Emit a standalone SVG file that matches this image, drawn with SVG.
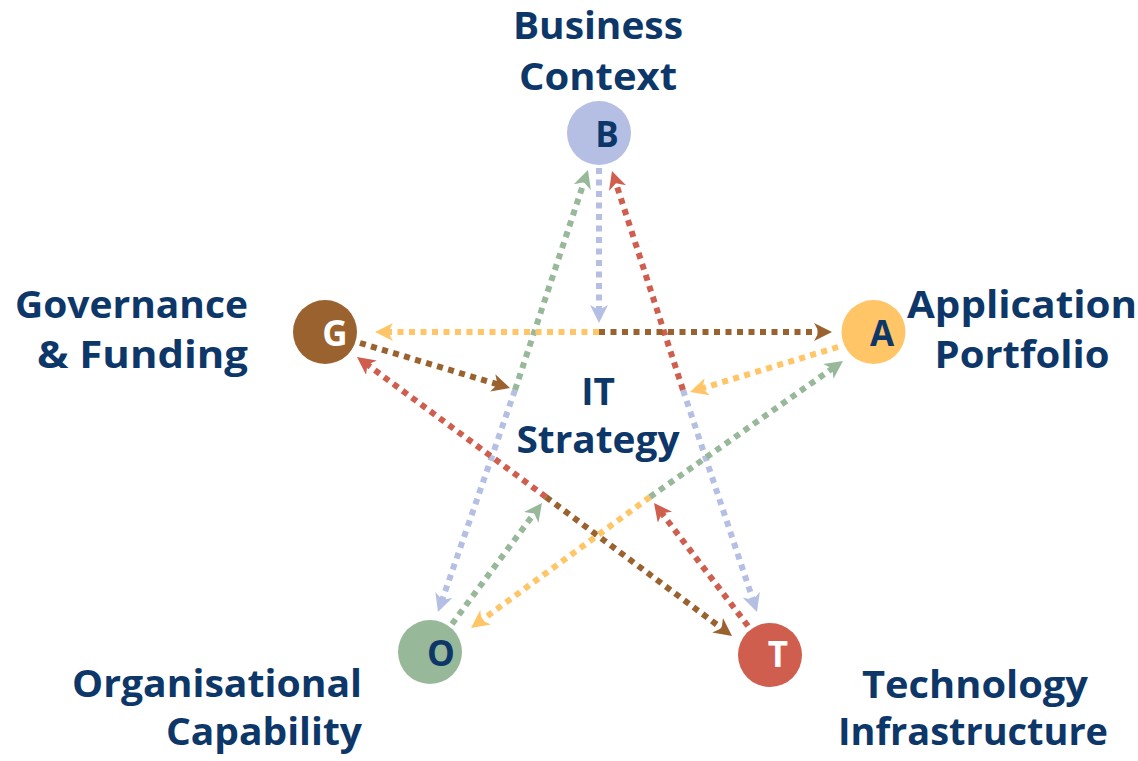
<svg xmlns="http://www.w3.org/2000/svg" width="1138" height="761" viewBox="0 0 1138 761">
<style>
.lbl{font-family:"Open Sans","Noto Sans","Liberation Sans",sans-serif;font-weight:700;font-size:37px;fill:#0D3768}
.ltr{font-family:"Open Sans","Noto Sans","Liberation Sans",sans-serif;font-weight:700;font-size:35px;text-anchor:middle}
.c{stroke-width:6;stroke-dasharray:6 5.5;fill:none}
.b{stroke:#B4BFE3}.g{stroke:#98B89A}.y{stroke:#FFC566}.br{stroke:#9A622F}.r{stroke:#D05E4F}
</style>
<defs>
<marker id="mb" viewBox="0 0 18 18" refX="6" refY="9" markerWidth="18" markerHeight="18" markerUnits="userSpaceOnUse" orient="auto"><path d="M0,0 L18,9 L0,18 L5,9 Z" fill="#B4BFE3"/></marker>
<marker id="mg" viewBox="0 0 18 18" refX="6" refY="9" markerWidth="18" markerHeight="18" markerUnits="userSpaceOnUse" orient="auto"><path d="M0,0 L18,9 L0,18 L5,9 Z" fill="#98B89A"/></marker>
<marker id="my" viewBox="0 0 18 18" refX="6" refY="9" markerWidth="18" markerHeight="18" markerUnits="userSpaceOnUse" orient="auto"><path d="M0,0 L18,9 L0,18 L5,9 Z" fill="#FFC566"/></marker>
<marker id="mbr" viewBox="0 0 18 18" refX="6" refY="9" markerWidth="18" markerHeight="18" markerUnits="userSpaceOnUse" orient="auto"><path d="M0,0 L18,9 L0,18 L5,9 Z" fill="#9A622F"/></marker>
<marker id="mr" viewBox="0 0 18 18" refX="6" refY="9" markerWidth="18" markerHeight="18" markerUnits="userSpaceOnUse" orient="auto"><path d="M0,0 L18,9 L0,18 L5,9 Z" fill="#D05E4F"/></marker>
</defs>
<rect width="1138" height="761" fill="#FFFFFF"/>
<g id="connectors">
<line class="c b" x1="599" y1="168" x2="599" y2="311" marker-end="url(#mb)"/>
<line class="c b" x1="515" y1="390" x2="441.9" y2="600.7" marker-end="url(#mb)"/>
<line class="c b" x1="683" y1="390" x2="753.2" y2="600.6" marker-end="url(#mb)"/>
<line class="c g" x1="515" y1="390" x2="584.2" y2="181.4" marker-end="url(#mg)"/>
<line class="c r" x1="683" y1="390" x2="615.7" y2="182.4" marker-end="url(#mr)"/>
<line class="c y" x1="599" y1="332" x2="387" y2="332" marker-end="url(#my)"/>
<line class="c br" x1="599" y1="332" x2="820" y2="332" marker-end="url(#mbr)"/>
<line class="c br" x1="360" y1="343" x2="498.5" y2="384.6" marker-end="url(#mbr)"/>
<line class="c r" x1="546" y1="497" x2="366.6" y2="364.1" marker-end="url(#mr)"/>
<line class="c br" x1="546" y1="497" x2="722.4" y2="628.8" marker-end="url(#mbr)"/>
<line class="c r" x1="748" y1="626" x2="661.3" y2="512.5" marker-end="url(#mr)"/>
<line class="c g" x1="452" y1="624" x2="534.8" y2="512.6" marker-end="url(#mg)"/>
<line class="c y" x1="650" y1="497" x2="480.7" y2="620.9" marker-end="url(#my)"/>
<line class="c g" x1="650" y1="497" x2="833.2" y2="367.9" marker-end="url(#mg)"/>
<line class="c y" x1="838" y1="347" x2="701.5" y2="388.5" marker-end="url(#my)"/>
</g>
<g id="node-B">
<circle cx="599" cy="133" r="32" fill="#B4BFE3"/>
<text class="ltr" x="607" y="147" fill="#0D3768">B</text>
<text class="lbl" x="598" y="39" text-anchor="middle" textLength="170" lengthAdjust="spacingAndGlyphs">Business</text>
<text class="lbl" x="598" y="90" text-anchor="middle" textLength="158" lengthAdjust="spacingAndGlyphs">Context</text>
</g>
<g id="node-G">
<circle cx="325" cy="332" r="32" fill="#9A622F"/>
<text class="ltr" x="335" y="346" fill="#FFFFFF">G</text>
<text class="lbl" x="248" y="318" text-anchor="end" textLength="233" lengthAdjust="spacingAndGlyphs">Governance</text>
<text class="lbl" x="248" y="368" text-anchor="end" textLength="211" lengthAdjust="spacingAndGlyphs">&amp; Funding</text>
</g>
<g id="node-A">
<circle cx="873.5" cy="332" r="32" fill="#FFC566"/>
<text class="ltr" x="882" y="346" fill="#0D3768">A</text>
<text class="lbl" x="1022" y="318" text-anchor="middle" textLength="230" lengthAdjust="spacingAndGlyphs">Application</text>
<text class="lbl" x="1022" y="368" text-anchor="middle" textLength="175" lengthAdjust="spacingAndGlyphs">Portfolio</text>
</g>
<g id="node-O">
<circle cx="430" cy="652" r="32" fill="#98B89A"/>
<text class="ltr" x="441" y="666" fill="#0D3768">O</text>
<text class="lbl" x="362" y="697" text-anchor="end" textLength="290" lengthAdjust="spacingAndGlyphs">Organisational</text>
<text class="lbl" x="362" y="745" text-anchor="end" textLength="196" lengthAdjust="spacingAndGlyphs">Capability</text>
</g>
<g id="node-T">
<circle cx="770" cy="655" r="32" fill="#D05E4F"/>
<text class="ltr" x="778" y="667" fill="#FFFFFF">T</text>
<text class="lbl" x="975" y="698" text-anchor="middle" textLength="226" lengthAdjust="spacingAndGlyphs">Technology</text>
<text class="lbl" x="973" y="745" text-anchor="middle" textLength="270" lengthAdjust="spacingAndGlyphs">Infrastructure</text>
</g>
<g id="center">
<text class="lbl" x="598" y="405" text-anchor="middle">IT</text>
<text class="lbl" x="598" y="453" text-anchor="middle" textLength="163" lengthAdjust="spacingAndGlyphs">Strategy</text>
</g>
</svg>
